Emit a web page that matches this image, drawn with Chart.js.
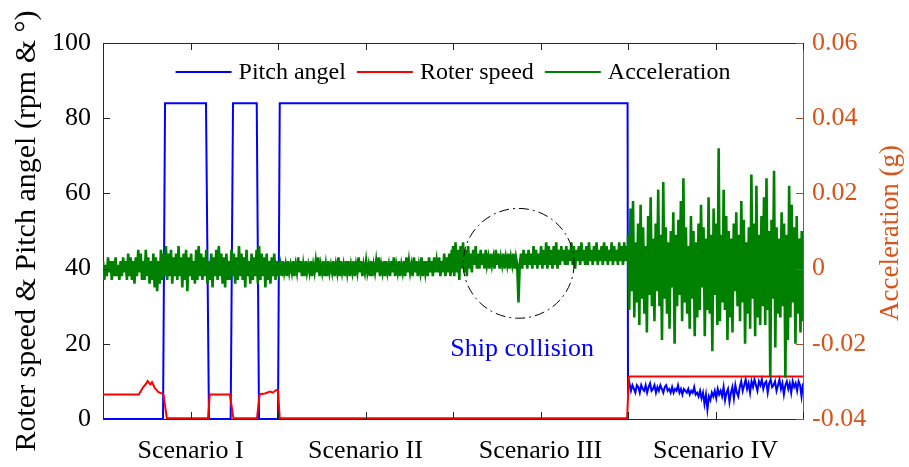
<!DOCTYPE html>
<html>
<head>
<meta charset="utf-8">
<title>Turbine response by scenario</title>
<script src="https://cdn.jsdelivr.net/npm/chart.js@4.4.1/dist/chart.umd.min.js"></script>
<style>
  html, body { margin: 0; padding: 0; background: #fff; }
  #wrap { width: 909px; height: 467px; position: relative; }
</style>
</head>
<body>
<div id="wrap"><canvas id="scenario-chart"></canvas></div>
<script>
// scenario names, one under every second time unit
const scenarioLabels = ["Scenario I", "Scenario II", "Scenario III", "Scenario IV"];

// pitch angle (deg): steps in scenarios I-III
const pitchStepT = [0, 0.686, 0.709, 1.177, 1.211, 1.459, 1.486, 1.757, 1.783, 2.0, 2.02, 5.995];
const pitchStepV = [0, 0, 84, 84, 0, 0, 84, 84, 0, 0, 84, 84];
// pitch angle in scenario IV, evenly sampled from t=6 to t=8
const pitchS4 = [
  8, 9.5, 7.5, 9, 8, 7, 9, 8.5, 7, 9,
  8, 7.5, 9, 7, 8.5, 9.5, 7.5, 8, 9, 7,
  8.5, 7.5, 9, 8, 7, 8.5, 9, 7.5, 8, 7,
  8.5, 7, 8, 7.5, 9, 7, 8, 6.5, 8, 7.5,
  7, 8, 6.5, 7.5, 7, 8.5, 6.5, 7, 6, 7.5,
  5.5, 7, 4, 6.5, 2.5, 6, 5, 7, 6, 7.5,
  5.5, 8, 6.5, 7.5, 6, 8.5, 5, 7, 8, 4.5,
  7, 8.5, 5.5, 9, 7, 6, 8.5, 10, 7.5, 9,
  10.5, 8, 9.5, 7, 10, 8.5, 10.5, 9, 7.5, 10,
  9, 10.5, 8, 9.5, 10, 7, 9.5, 10.5, 8.5, 9,
  10, 7.5, 9, 10.5, 8, 9.5, 6.5, 9, 10, 8,
  9.5, 7, 10, 8.5, 9.5, 7.5, 10, 9, 6, 9.5
];

// rotor speed (rpm)
const rotorT = [0, 0.41, 0.46, 0.49, 0.51, 0.54, 0.56, 0.59, 0.63, 0.69, 0.73, 1.20, 1.22, 1.45, 1.49,
  1.76, 1.79, 1.85, 1.91, 1.94, 1.98, 2.00, 2.02, 5.99, 6.01, 8];
const rotorV = [6.5, 6.5, 8.5, 9.3, 10.1, 9.2, 9.8, 8.3, 7.2, 6.6, 0.2, 0.2, 6.5, 6.5, 0.2,
  0.2, 6.6, 6.8, 7.3, 7.0, 7.7, 7.6, 0.2, 0.2, 11.3, 11.3];

// acceleration in mg, evenly sampled over each scenario
const accelS1 = [
  2, -3, 1, -2, 3, -1, 2, -3, 2, -2,
  3, -2, 1, -3, 2, -2, 3, -1, 2, -3,
  4, -2, 3, -3, 2, -4, 3, -2, 5, -1,
  4, -3, 2, -3, 5, -2, 3, -4, 2, -3,
  4, -5, 3, -6, 2, -4, 5, -3, 4, -2,
  6, -3, 4, -2, 5, -4, 3, -2, 4, -3,
  6, -2, 3, -5, 4, -3, 5, -6, 3, -2,
  4, -3, 2, -4, 5, -3, 6, -2, 4, -3,
  3, -2, 5, -4, 2, -3, 4, -5, 3, -2,
  5, -3, 6, -2, 4, -4, 3, -5, 4, -3,
  2, -3, 5, -2, 4, -4, 3, -3, 6, -2,
  4, -3, 3, -5, 5, -2, 2, -4, 4, -3,
  3, -2, 5, -4, 6, -3, 4, -2, 3, -5,
  4, -3, 2, -4, 3, -2, 4, -3, 2, -2
];
const accelS2 = [
  2, -1, 1, -2, 2, -1, 1, -2, 2, -1,
  1, -1, 2, -2, 1, -1, 3, -1, 2, -2,
  1, -2, 2, -1, 1, -1, 2, -2, 1, -1,
  2, -1, 3, -2, 1, -1, 2, -2, 1, -2,
  2, -1, 1, -1, 2, -2, 1, -1, 3, -2,
  2, -1, 1, -2, 2, -1, 2, -2, 1, -1,
  2, -2, 1, -1, 3, -1, 2, -2, 1, -1,
  2, -1, 1, -2, 2, -2, 1, -1, 2, -1,
  3, -2, 1, -1, 2, -2, 2, -1, 1, -2,
  2, -1, 3, -2, 1, -1, 2, -2, 1, -1,
  2, -2, 3, -1, 2, -1, 1, -2, 3, -1,
  2, -2, 1, -1, 3, -2, 2, -1, 2, -2,
  3, -1, 2, -2, 3, -1, 2, -1, 3, -2,
  2, -1, 4, -2, 3, -1, 4, -2, 5, -1
];
const accelS3 = [
  6, -2, 7, -1, 5, -3, 6, 0, 7, -1,
  5, -2, 6, 0, 4, -1, 5, 1, 6, 0,
  4, 0, 5, 1, 4, 0, 5, 1, 3, 0,
  4, 1, 3, 0, 5, 1, 4, 0, 3, 1,
  4, 0, 3, 1, 4, 0, 3, 1, 4, 0,
  3, 1, -9, 1, 4, 0, 5, 1, 4, 0,
  5, 1, 4, 0, 6, 1, 5, 0, 4, 1,
  6, 0, 5, 1, 7, 0, 6, 1, 5, 0,
  6, 1, 7, 0, 5, 1, 6, 2, 5, 1,
  6, 1, 5, 2, 7, 1, 6, 0, 5, 2,
  6, 1, 7, 2, 5, 1, 6, 1, 7, 2,
  5, 1, 6, 2, 7, 1, 5, 2, 6, 1,
  7, 2, 6, 1, 5, 2, 7, 1, 6, 2,
  5, 1, 7, 2, 6, 1, 7, 2, 6, 2
];
const accelS4 = [
  9, -11, 16, -6, 18, -13, 7, -9, 12, -15,
  17, -8, 11, -12, 6, -17, 14, -7, 19, -10,
  8, -14, 12, -6, 21, -10, 9, -19, 23, -8,
  11, -12, 7, -16, 10, -5, 15, -20, 9, -10,
  13, -7, 18, -14, 24, -9, 11, -12, 6, -16,
  14, -8, 10, -18, 7, -13, 12, -11, 17, -5,
  11, -18, 8, -11, 19, -12, 9, -22, 16, -7,
  12, -15, 32, -14, 9, -9, 21, -11, 14, -19,
  10, -13, 8, -17, 12, -6, 15, -10, 9, -14,
  18, -9, 13, -20, 7, -12, 11, -16, 25, -8,
  12, -18, 22, -13, 9, -15, 14, -10, 19, -15,
  24, -11, 10, -29, 13, -8, 26, -21, 11, -12,
  8, -13, 15, -10, 12, -29, 9, -19, 22, -13,
  17, -9, 11, -20, 14, -12, 8, -17, 10, -14
];

const serif = "'Liberation Serif', 'Times New Roman', serif";
const accelColor = "#D95319";

// build {x, y} points
const pitchPoints = pitchStepT.map((t, i) => ({ x: t, y: pitchStepV[i] }));
pitchS4.forEach((v, i) => pitchPoints.push({ x: 6 + i * 2 / (pitchS4.length - 1), y: v }));

const rotorPoints = rotorT.map((t, i) => ({ x: t, y: rotorV[i] }));

const accelPoints = [];
[accelS1, accelS2, accelS3, accelS4].forEach((set, s) => {
  set.forEach((mg, i) => accelPoints.push({ x: s * 2 + i * 2 / (set.length - 1), y: mg / 1000 }));
});

// inward ticks, top border, legend, collision marker and right title
const decorations = {
  id: "decorations",
  afterDatasetsDraw(chart) {
    const { ctx, chartArea: a, scales } = chart;
    const x = scales.x, y = scales.y, y1 = scales.y1;
    const tick = 7;
    ctx.save();

    // top border
    ctx.strokeStyle = "#262626";
    ctx.lineWidth = 1;
    ctx.beginPath();
    ctx.moveTo(a.left, a.top + 0.5);
    ctx.lineTo(a.right, a.top + 0.5);
    ctx.stroke();

    // x ticks, top and bottom
    ctx.beginPath();
    x.ticks.forEach(t => {
      const px = Math.round(x.getPixelForValue(t.value)) + 0.5;
      ctx.moveTo(px, a.bottom); ctx.lineTo(px, a.bottom - tick);
      ctx.moveTo(px, a.top); ctx.lineTo(px, a.top + tick);
    });
    // left ticks
    y.ticks.forEach(t => {
      const py = Math.round(y.getPixelForValue(t.value)) + 0.5;
      ctx.moveTo(a.left, py); ctx.lineTo(a.left + tick, py);
    });
    ctx.stroke();

    // right ticks
    ctx.strokeStyle = "#A0522D";
    ctx.beginPath();
    y1.ticks.forEach(t => {
      const py = Math.round(y1.getPixelForValue(t.value)) + 0.5;
      ctx.moveTo(a.right, py); ctx.lineTo(a.right - tick, py);
    });
    ctx.stroke();

    // dash-dot circle around the collision
    const cx = x.getPixelForValue(4.75), cy = y1.getPixelForValue(0.0014);
    const rx = x.getPixelForValue(4.75 + 0.634) - cx;
    const ry = cy - y1.getPixelForValue(0.0014 + 0.0146);
    ctx.strokeStyle = "#000";
    ctx.lineWidth = 1;
    ctx.setLineDash([10, 4, 2, 4]);
    ctx.beginPath();
    ctx.ellipse(cx, cy, rx, ry, 0, 0, Math.PI * 2);
    ctx.stroke();
    ctx.setLineDash([]);

    ctx.fillStyle = "#0000FF";
    ctx.font = "26px " + serif;
    ctx.textAlign = "center";
    ctx.textBaseline = "middle";
    ctx.fillText("Ship collision", x.getPixelForValue(4.79), y.getPixelForValue(18.5));

    // legend across the top of the plot
    ctx.font = "24px " + serif;
    ctx.textAlign = "left";
    const lineLen = 56, gap = 7, spacing = 11;
    const items = chart.data.datasets.map(d => ({
      label: d.label, color: d.borderColor, w: ctx.measureText(d.label).width
    }));
    const total = items.reduce((s, it) => s + lineLen + gap + it.w, 0) + spacing * (items.length - 1);
    let lx = (a.left + a.right) / 2 - total / 2;
    const ly = a.top + 29;
    items.forEach(it => {
      ctx.strokeStyle = it.color;
      ctx.lineWidth = 2;
      ctx.beginPath();
      ctx.moveTo(lx, ly); ctx.lineTo(lx + lineLen, ly);
      ctx.stroke();
      ctx.fillStyle = "#000";
      ctx.fillText(it.label, lx + lineLen + gap, ly + 1);
      lx += lineLen + gap + it.w + spacing;
    });

    // right axis title, reading bottom to top
    ctx.translate(891, (a.top + a.bottom) / 2 + 2);
    ctx.rotate(-Math.PI / 2);
    ctx.fillStyle = accelColor;
    ctx.font = "27px " + serif;
    ctx.textAlign = "center";
    ctx.fillText("Acceleration (g)", 0, 0);
    ctx.restore();
  }
};

const ctx = document.getElementById("scenario-chart").getContext("2d");
new Chart(ctx, {
  type: "line",
  data: {
    datasets: [
      { label: "Pitch angel", data: pitchPoints, borderColor: "#0000FF", yAxisID: "y", order: 2 },
      { label: "Roter speed", data: rotorPoints, borderColor: "#FF0000", yAxisID: "y", order: 1 },
      { label: "Acceleration", data: accelPoints, borderColor: "#008000", borderWidth: 2.6, yAxisID: "y1", order: 0 }
    ]
  },
  options: {
    responsive: true,
    maintainAspectRatio: false,
    animation: false,
    layout: { padding: { top: 43, left: 0, right: 0, bottom: 0 } },
    elements: {
      point: { radius: 0 },
      line: { borderWidth: 2, tension: 0 }
    },
    plugins: {
      legend: { display: false },
      tooltip: { enabled: false }
    },
    scales: {
      x: {
        type: "linear",
        min: 0,
        max: 8,
        grid: { display: false, drawTicks: false },
        border: { display: true, color: "#262626", width: 1 },
        ticks: {
          stepSize: 1,
          autoSkip: false,
          maxRotation: 0,
          padding: 17,
          color: "#000",
          font: { family: serif, size: 26 },
          callback: v => (v % 2 === 1 ? scenarioLabels[(v - 1) / 2] : "")
        },
        afterFit: s => { s.height = 48; }
      },
      y: {
        position: "left",
        min: 0,
        max: 100,
        grid: { display: false, drawTicks: false },
        border: { display: true, color: "#262626", width: 1 },
        ticks: { stepSize: 20, padding: 12, color: "#000", font: { family: serif, size: 26 } },
        title: {
          display: true,
          text: "Roter speed & Pitch angel (rpm & °)",
          color: "#000",
          font: { family: serif, size: 30 },
          padding: { top: 9, bottom: 0 }
        },
        afterFit: s => { s.width = 103; }
      },
      y1: {
        position: "right",
        min: -0.04,
        max: 0.06,
        grid: { display: false, drawTicks: false },
        border: { display: true, color: "#A0522D", width: 1 },
        ticks: {
          stepSize: 0.02,
          padding: 9,
          color: accelColor,
          font: { family: serif, size: 26 },
          callback: v => (Math.abs(v) < 1e-9 ? "0" : v.toFixed(2))
        },
        afterFit: s => { s.width = 106; }
      }
    }
  },
  plugins: [decorations]
});
</script>
</body>
</html>
